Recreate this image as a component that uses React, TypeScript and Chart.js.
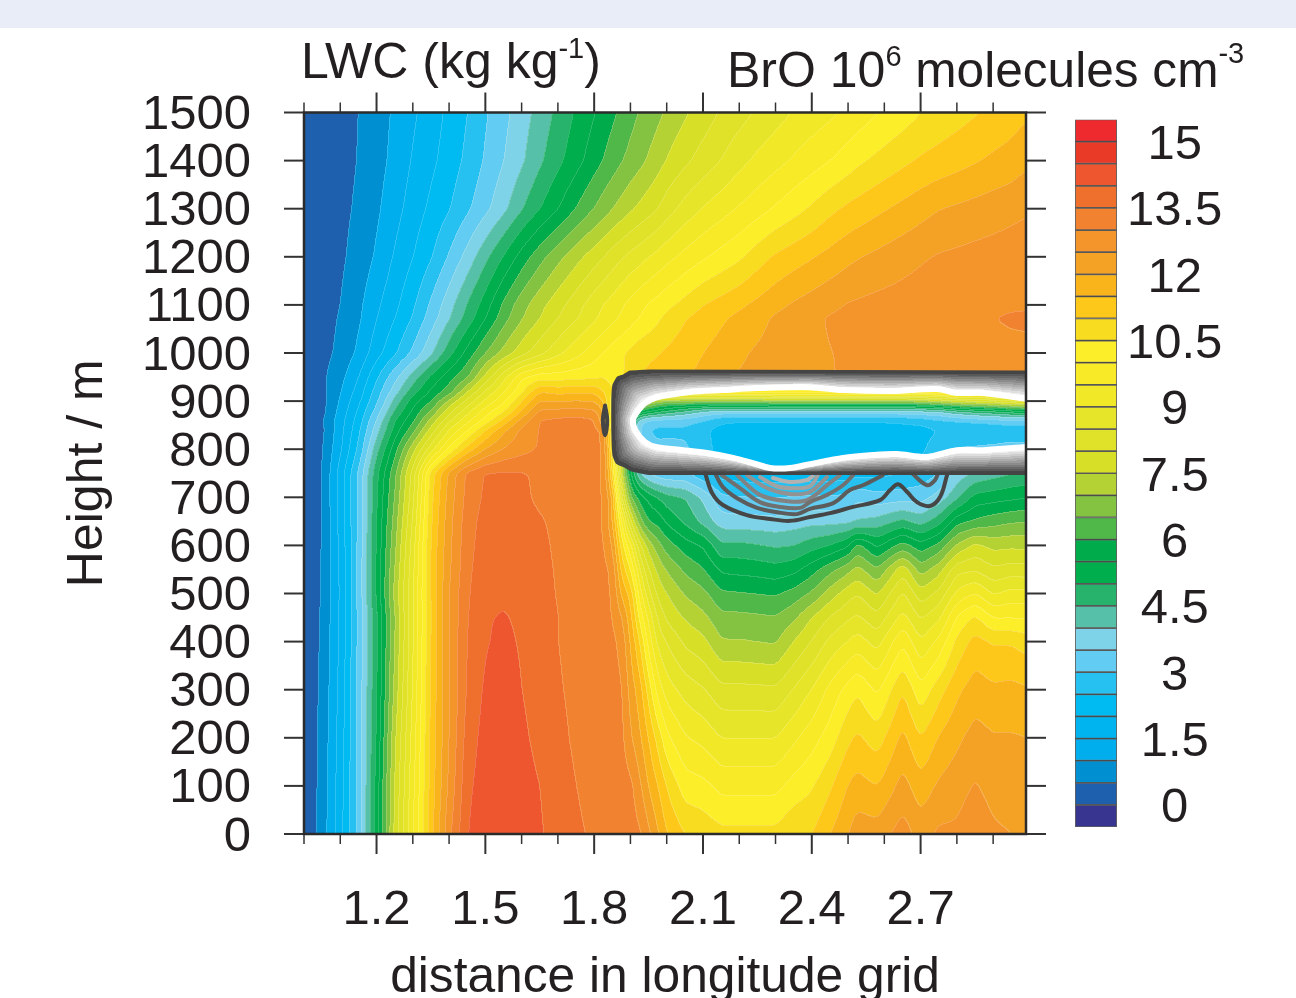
import React, { useEffect, useRef } from "react";
import { Chart, registerables } from "chart.js";

Chart.register(...registerables);

const FONT = "'Liberation Sans', Arial, sans-serif";
const INK = "#231f20";

// ---- grid of the BrO field (10^6 molecules cm-3) ----
const DISTANCES = [1.0,1.05,1.1,1.15,1.2,1.25,1.3,1.35,1.4,1.45,1.5,1.55,1.6,1.65,1.7,1.75,1.8,1.825,1.85,1.875,1.9,1.925,1.95,1.975,2.0,2.05,2.1,2.15,2.2,2.25,2.3,2.35,2.4,2.45,2.5,2.525,2.58,2.65,2.7,2.75,2.8,2.85,2.9,2.95,3.0];
const HEIGHTS = [0,100,200,300,400,450,500,550,600,650,700,750,800,840,860,880,900,920,950,1000,1073,1100,1200,1300,1400,1500];

const BRO_0 = [.05,.75,1.85,3.2,5.3,7.7,9.5,11.35,12.9,14.02,14.3,14.4,14.3,14.05,13.8,13.58,13.42,13.35,13.3,13.25,13.2,13.1,12.6,12.05,11.5,11,10.85,10.65,10.65,10.65,10.65,10.95,11,11.5,12,12.3,12.25,12.75,12.3,12.6,12.6,12.9,12.6,12.5,12.5];
const BRO_100 = [.05,.7,1.8,3.2,5.25,7.6,9.4,11.25,12.65,13.9,14.25,14.35,14.2,14.0,13.7,13.5,13.33,13.28,13.22,13.2,13.15,12.6,11.95,11.5,10.95,10.25,10.15,9.85,9.85,9.85,9.85,10.2,10.45,10.93,11.54,11.7,11.5,12.2,11.7,12.1,12.3,12.55,12.3,12.25,12.25];
const BRO_200 = [.05,.68,1.75,3.2,5.1,7.45,9.25,11.2,12.55,13.75,14.2,14.3,14.1,13.85,13.62,13.42,13.28,13.22,13.17,13.15,12.55,12.1,11.45,10.8,10.1,9.55,9.35,9,9,9,9,9.4,9.8,10.25,10.9,11.1,10.75,11.65,11,11.55,11.9,12.2,12.05,12.05,12];
const BRO_300 = [.05,.64,1.68,3.2,5,7.2,9.1,11.15,12.5,13.6,14.1,14.25,14,13.78,13.55,13.38,13.22,13.18,13.12,13.1,12.25,11.75,10.75,9.75,9.25,8.8,8.55,8.15,8.15,8.13,8.1,8.55,9.03,9.65,10.2,10.45,9.9,11,10.15,10.8,11.4,11.75,11.6,11.65,11.55];
const BRO_400 = [.05,.6,1.62,3.15,4.95,7.05,9,11.1,12.55,13.55,13.97,14.1,13.95,13.7,13.5,13.33,13.2,13.15,13.1,12.85,11.9,11,9.75,8.85,8.45,7.9,7.65,7.05,7.05,7,6.95,7.53,8.05,8.65,9.03,9.25,8.8,9.95,9.05,9.65,10.65,11.2,10.95,10.95,10.75];
const BRO_450 = [.05,.58,1.6,3.15,4.95,7,9,11.05,12.55,13.5,13.97,14.03,13.93,13.7,13.5,13.32,13.17,13.1,13.02,12.55,11.65,10.35,9.35,8.4,7.9,7.45,7.15,6.65,6.65,6.6,6.55,6.9,7.52,8.05,8.45,8.6,8.15,9.2,8.45,8.9,10.1,10.6,10,10,9.95];
const BRO_500 = [.05,.55,1.58,3.17,5.12,7.2,9,11.1,12.55,13.45,13.9,13.95,13.9,13.65,13.47,13.3,13.15,13.08,13,11.85,11.35,9.7,8.65,7.85,7.5,6.95,6.65,6.1,6.05,6,5.95,6.2,6.6,7.25,7.8,8,7.45,8.6,7.7,8.15,9.15,9.55,8.95,9.2,9.15];
const BRO_550 = [.05,.55,1.6,3.17,5.15,7.05,8.9,11.15,12.45,13.4,13.8,13.85,13.8,13.63,13.45,13.28,13.15,13.1,12.9,11.3,10.5,9,8,7.35,6.95,6.4,6.05,5.4,5.35,5.3,5.2,5.35,5.8,6.35,6.85,7.2,6.55,7.85,6.75,7.3,8.35,8.45,8.1,8.25,8.2];
const BRO_600 = [.05,.52,1.65,3.15,5.1,6.9,8.8,11.1,12.4,13.35,13.75,13.8,13.75,13.6,13.42,13.27,13.12,13.05,12.5,10.7,9.6,8.1,7.25,6.7,6.25,5.75,5.45,4.6,4.65,4.55,4.45,4.5,4.8,5.03,5.45,6.2,5.4,6.25,5.7,6.15,7.1,7.65,7.35,7.4,7.35];
const BRO_650 = [.05,.5,1.7,3.12,5.05,6.75,8.6,11,12.35,13.3,13.7,13.75,13.7,13.55,13.38,13.25,13.1,13,12,10,8,6.7,6,5.85,5.4,4.9,4.35,3.75,3.7,3.7,3.65,3.75,3.85,3.85,3.9,4.05,4.2,4.65,4.3,4.8,5.85,6.1,6.3,6.45,6.5];
const BRO_700 = [.05,.5,1.75,3.12,5,6.55,8.4,10.9,12.25,13.2,13.6,13.65,13.6,13.4,13.35,13.25,13.1,13,12,8.5,6.5,5.8,5.3,5,4.7,4.5,3.9,3.1,3.05,3,3,3.05,3.1,3.1,3.1,3.4,3.2,3.3,3.3,3.7,4.4,5.2,5.3,5.4,5.5];
const BRO_750 = [.05,.5,1.75,3.1,4.9,6.4,8.25,10.75,12.15,13.13,13.55,13.6,13.55,13.4,13.3,13.2,13.1,13,11,7.5,5.5,4,3.5,3.2,3.1,3.1,2.6,2.3,2.25,2.2,2.2,2.2,2.2,2.2,2.3,2.35,2.35,2.5,2.7,3,3.7,4.1,4.3,4.5,4.6];
const BRO_800 = [.05,.47,1.44,2.63,4.37,5.83,7.35,8.83,10.14,11.22,12.05,12.55,12.85,13.05,13.1,13.15,13.1,13,10.5,7.5,5,3.4,3.2,3.1,3.15,3.1,2.7,2.3,2.2,2.2,2.2,2.2,2.2,2.2,2.2,2.2,2.2,2.3,2.4,2.8,3.05,3.1,3.15,3.2,3.2];
const BRO_840 = [.05,.4,1.33,2.4,3.8,5.22,6.33,7.72,9.05,10,11,11.9,12.65,13.05,13.1,13.15,13.05,13,10,8,5,3.5,3,2.9,2.9,2.9,2.6,2.3,2.2,2.2,2.2,2.2,2.2,2.2,2.2,2.2,2.2,2.25,2.3,2.5,2.5,2.55,2.6,2.7,2.7];
const BRO_860 = [.05,.45,1.3,2.25,3.57,5,5.9,7.2,8.43,9.37,10.2,11.15,12.2,13.05,13.15,13.2,13.1,12,9.5,8,5,3.7,3.3,3.2,3.2,3.2,3,2.6,2.5,2.5,2.5,2.5,2.5,2.5,2.5,2.5,2.5,2.6,2.7,2.9,3,3.1,3.2,3.3,3.3];
const BRO_880 = [.05,.35,1.18,2.1,3.2,4.57,5.6,6.57,7.8,8.83,9.75,10.43,11.5,12.6,12.65,12.7,12.6,12,10,9,7,6,5.6,5.3,5,4.5,4,3.8,3.8,3.8,3.8,3.8,3.8,3.8,3.8,3.8,3.8,3.8,3.9,4,4.5,4.8,5,5.3,5.5];
const BRO_900 = [.05,.35,1.08,1.9,2.93,4.2,5.3,6,7.15,8.2,9.15,9.9,11,12.05,12,12.05,12,11.5,10,10,9,8,7.5,7,6.8,6.8,6.8,6.8,6.8,6.8,7,7,7,7,7,7,7,7,7.2,7.5,7.8,8,8.2,8.5,8.7];
const BRO_920 = [.05,.38,.97,1.73,2.75,3.78,4.8,5.6,6.25,7.5,8.6,9.45,10.4,11.5,11.35,11.4,11.4,11,10.5,10.5,10.5,10.5,10.5,10.5,10.5,10.5,10.5,10.5,10.5,10.5,10.5,10.5,10.5,10.5,10.5,10.5,10.5,10.5,10.5,10.5,10.5,10.5,10.5,10.5,10.5];
const BRO_950 = [.05,.4,.85,1.5,2.45,3.35,4.25,5.12,5.8,6.45,7.65,8.85,9.95,10.3,10.3,10.35,10.4,10.5,10.3,10.4,10.8,11,11.1,11.2,11.3,11.45,11.65,11.85,12.05,12.1,12.2,12.3,12.4,12.48,12.55,12.58,12.63,12.7,12.74,12.78,12.8,12.82,12.83,12.84,12.85];
const BRO_1000 = [.05,.35,.62,1.12,1.81,2.43,3.12,3.91,4.83,5.7,6.5,7.18,7.8,8.35,8.87,9.33,9.79,10.02,10.24,10.45,10.6,10.82,10.92,10.96,11.08,11.29,11.5,11.71,11.93,12.07,12.17,12.28,12.39,12.49,12.55,12.58,12.63,12.7,12.74,12.78,12.8,12.82,12.83,12.84,12.85];
const BRO_1073 = [.05,.3,.55,.92,1.5,2,2.55,3.25,3.97,4.7,5.5,6.3,6.97,7.5,8,8.45,8.92,9.15,9.38,9.58,9.8,10.02,10.2,10.42,10.63,10.97,11.2,11.42,11.63,11.85,12.08,12.25,12.4,12.55,12.62,12.65,12.72,12.78,12.83,12.87,12.9,12.95,12.99,13.07,13.1];
const BRO_1100 = [.05,.3,.5,.89,1.41,1.88,2.43,3.1,3.82,4.55,5.27,6.12,6.81,7.35,7.82,8.3,8.8,9.02,9.21,9.45,9.66,9.86,10.05,10.2,10.37,10.68,11,11.2,11.41,11.63,11.86,12.07,12.23,12.39,12.54,12.58,12.66,12.73,12.78,12.81,12.84,12.87,12.89,12.92,12.94];
const BRO_1200 = [.05,.25,.42,.69,1.08,1.57,2,2.47,3.07,3.7,4.38,5.04,5.73,6.33,6.86,7.33,7.78,8,8.24,8.47,8.65,8.83,9,9.17,9.35,9.66,9.94,10.18,10.42,10.77,11.08,11.28,11.47,11.67,11.88,11.97,12.12,12.31,12.44,12.55,12.61,12.67,12.72,12.78,12.85];
const BRO_1300 = [.05,.22,.38,.58,.92,1.32,1.74,2.12,2.48,2.92,3.38,3.88,4.47,5,5.5,6.03,6.53,6.76,7,7.21,7.43,7.62,7.81,8,8.28,8.7,9.04,9.3,9.56,9.81,10.07,10.32,10.58,10.88,11.11,11.2,11.4,11.64,11.82,11.99,12.08,12.17,12.26,12.35,12.45];
const BRO_1400 = [.05,.2,.35,.52,.82,1.15,1.56,1.89,2.24,2.63,3.07,3.5,3.93,4.42,4.88,5.32,5.79,6.03,6.25,6.48,6.67,6.87,7.07,7.3,7.54,7.9,8.22,8.52,8.85,9.12,9.34,9.57,9.79,10,10.25,10.4,10.62,10.89,11.07,11.2,11.33,11.46,11.6,11.72,11.95];
const BRO_1500 = [.05,.2,.35,.5,.78,1.08,1.42,1.77,2.12,2.5,2.95,3.36,3.78,4.2,4.64,5.07,5.48,5.7,5.9,6.12,6.33,6.54,6.7,6.88,7.08,7.44,7.74,8.06,8.31,8.57,8.8,9.04,9.22,9.4,9.6,9.72,9.98,10.26,10.49,10.65,10.8,10.96,11.1,11.25,11.45];
const BRO_ROWS = [BRO_0,BRO_100,BRO_200,BRO_300,BRO_400,BRO_450,BRO_500,BRO_550,BRO_600,BRO_650,BRO_700,BRO_750,BRO_800,BRO_840,BRO_860,BRO_880,BRO_900,BRO_920,BRO_950,BRO_1000,BRO_1073,BRO_1100,BRO_1200,BRO_1300,BRO_1400,BRO_1500];

// ---- colour bands: first band is below 0, then one per 0.5, last above 15 ----
const BAND_COLORS = ["#37358f","#1f60ae","#0090d2","#00aeed","#00b5ef","#00bbf2","#26c1f1","#63ccf2","#7fd3e8","#57c0a8","#27b36c","#00ae4d","#00ab4b","#4fb848","#84c341","#b5d235","#d8df27","#e0e229","#e6e529","#f1e928","#f9ea28","#fcee28","#f8dc20","#fdc819","#f9b41b","#f3a226","#f3952b","#f1822f","#ef6f2d","#ed562e","#e93a28","#ee2a2e"];
const BAND_EDGES = [-0.5,0,0.5,1,1.5,2,2.5,3,3.5,4,4.5,5,5.5,6,6.5,7,7.5,8,8.5,9,9.5,10,10.5,11,11.5,12,12.5,13,13.5,14,14.5,15,15.5];
const BAR_LABELS = [0,1.5,3,4.5,6,7.5,9,10.5,12,13.5,15];

// ---- axes ----
const X_LABELS = [1.2,1.5,1.8,2.1,2.4,2.7];
const X_MINOR = [1.0,1.1,1.3,1.4,1.6,1.7,1.9,2.0,2.2,2.3,2.5,2.6,2.8,2.9];
const Y_LABELS = [0,100,200,300,400,500,600,700,800,900,1000,1100,1200,1300,1400,1500];

// ---- LWC contours, [distance, height] ----
const LWC_EDGE: number[][] = [[3.03,960],[1.954,962],[1.899,960],[1.882,952],[1.866,948],[1.855,933],[1.852,902],[1.852,840],[1.855,788],[1.863,773],[1.885,765],[1.904,757],[1.954,750],[3.03,750]];
const LWC_CORE: number[][] = [[3.029,902],[2.982,906],[2.872,917],[2.8,917],[2.745,925],[2.624,921],[2.486,923],[2.395,929],[2.249,927],[2.155,923],[2.064,919],[1.973,908],[1.94,896],[1.918,877],[1.907,861],[1.913,840],[1.94,815],[1.973,804],[2.045,798],[2.111,792],[2.183,782],[2.238,771],[2.285,761],[2.34,761],[2.395,769],[2.486,782],[2.569,788],[2.635,790],[2.718,784],[2.8,798],[2.872,798],[2.982,804],[3.029,807]];
const LWC_A: number[][] = [[2.106,750],[2.125,709],[2.155,684],[2.221,663],[2.285,655],[2.34,651],[2.395,659],[2.45,667],[2.514,680],[2.588,694],[2.616,715],[2.638,727],[2.663,711],[2.69,690],[2.726,682],[2.754,701],[2.773,746]];
const LWC_B: number[][] = [[2.133,750],[2.155,721],[2.194,698],[2.249,678],[2.304,669],[2.359,665],[2.395,676],[2.459,688],[2.505,715],[2.541,725],[2.596,746]];
const LWC_B2: number[][] = [[2.676,750],[2.718,725],[2.74,736],[2.748,750]];
const LWC_C: number[][] = [[2.152,746],[2.202,719],[2.257,690],[2.312,680],[2.368,678],[2.395,690],[2.442,705],[2.486,725],[2.514,746]];
const LWC_D: number[][] = [[2.194,746],[2.257,705],[2.332,692],[2.387,694],[2.45,730],[2.478,746]];
const LWC_E: number[][] = [[2.221,746],[2.277,719],[2.34,707],[2.395,711],[2.442,742]];
const LWC_F: number[][] = [[2.257,742],[2.304,723],[2.348,719],[2.395,723],[2.417,746]];
const LWC_G: number[][] = [[2.293,740],[2.34,732],[2.387,736],[2.403,744]];
const LWC_BLOB: number[][] = [[1.83,891],[1.836,860],[1.83,829],[1.824,860],[1.83,891]];

const hexToRgb = (h: string) => [parseInt(h.slice(1,3),16),parseInt(h.slice(3,5),16),parseInt(h.slice(5,7),16)];

function locate(arr: number[], v: number) {
  let i = 0;
  while (i < arr.length - 2 && arr[i + 1] <= v) i++;
  return i;
}

function inside(poly: number[][], x: number, y: number) {
  let c = false;
  for (let i = 0, j = poly.length - 1; i < poly.length; j = i++) {
    const a = poly[i], b = poly[j];
    if ((a[1] > y) !== (b[1] > y) && x < ((b[0] - a[0]) * (y - a[1])) / (b[1] - a[1]) + a[0]) c = !c;
  }
  return c;
}

function distTo(poly: number[][], x: number, y: number) {
  let best = Infinity;
  for (let i = 0; i < poly.length - 1; i++) {
    const a = poly[i], b = poly[i + 1];
    const dx = b[0] - a[0], dy = b[1] - a[1];
    let t = ((x - a[0]) * dx + (y - a[1]) * dy) / (dx * dx + dy * dy || 1);
    t = Math.max(0, Math.min(1, t));
    const ex = a[0] + t * dx - x, ey = a[1] + t * dy - y;
    const d = ex * ex + ey * ey;
    if (d < best) best = d;
  }
  return Math.sqrt(best);
}

// Softens the bilinear kinks of the sampled field, as the reference's contouring does.
function boxBlur(src: Float32Array, W: number, H: number, R: number) {
  const tmp = new Float32Array(W * H);
  const out = new Float32Array(W * H);
  for (let y = 0; y < H; y++) {
    for (let x = 0; x < W; x++) {
      let s = 0;
      for (let d = -R; d <= R; d++) s += src[y * W + Math.max(0, Math.min(W - 1, x + d))];
      tmp[y * W + x] = s / (2 * R + 1);
    }
  }
  for (let y = 0; y < H; y++) {
    for (let x = 0; x < W; x++) {
      let s = 0;
      for (let d = -R; d <= R; d++) s += tmp[Math.max(0, Math.min(H - 1, y + d)) * W + x];
      out[y * W + x] = s / (2 * R + 1);
    }
  }
  return out;
}

const fieldPlugin = {
  id: "broField",
  beforeDatasetsDraw(chart: any) {
    const { ctx, chartArea, scales } = chart;
    const xs = scales.x, ys = scales.y;
    const L = Math.round(chartArea.left), T = Math.round(chartArea.top);
    const W = Math.round(chartArea.right) - L, H = Math.round(chartArea.bottom) - T;
    const img = ctx.createImageData(W, H);
    const rgb = BAND_COLORS.map(hexToRgb);
    let field = new Float32Array(W * H);
    const colIdx: number[] = [], colT: number[] = [];
    for (let px = 0; px < W; px++) {
      const v = xs.getValueForPixel(L + px + 0.5);
      const i = locate(DISTANCES, v);
      colIdx.push(i);
      colT.push((v - DISTANCES[i]) / (DISTANCES[i + 1] - DISTANCES[i]));
    }
    for (let py = 0; py < H; py++) {
      const v = ys.getValueForPixel(T + py + 0.5);
      const r = locate(HEIGHTS, v);
      const rt = (v - HEIGHTS[r]) / (HEIGHTS[r + 1] - HEIGHTS[r]);
      const lo = BRO_ROWS[r], hi = BRO_ROWS[r + 1];
      for (let px = 0; px < W; px++) {
        const c = colIdx[px], t = colT[px];
        const a = lo[c] + (lo[c + 1] - lo[c]) * t;
        const b = hi[c] + (hi[c + 1] - hi[c]) * t;
        field[py * W + px] = a + (b - a) * rt;
      }
    }
    field = boxBlur(boxBlur(field, W, H, 3), W, H, 3);
    const bands = new Uint8Array(W * H);
    for (let k = 0; k < W * H; k++) {
      const val = field[k];
      bands[k] = val < 0 ? 0 : Math.min(31, Math.floor(val / 0.5) + 1);
    }
    const toPx = (p: number[]) => [xs.getPixelForValue(p[0]) - L, ys.getPixelForValue(p[1]) - T];
    const edge = LWC_EDGE.map(toPx), core = LWC_CORE.map(toPx);
    const STEPS = 12;
    for (let py = 0; py < H; py++) {
      for (let px = 0; px < W; px++) {
        const k = py * W + px, b = bands[k];
        const o = k * 4;
        let [r, g, bl] = rgb[b];
        const diff = (px > 0 && bands[k - 1] !== b) || (py > 0 && bands[k - W] !== b);
        if (diff) {
          r += (255 - r) * 0.18; g += (255 - g) * 0.18; bl += (255 - bl) * 0.18;
        }
        if (py > 240 && py < 380 && inside(edge, px + 0.5, py + 0.5) && !inside(core, px + 0.5, py + 0.5)) {
          const dO = distTo(edge, px + 0.5, py + 0.5), dI = distTo(core, px + 0.5, py + 0.5);
          const q = Math.floor((dO / (dO + dI)) * STEPS) / (STEPS - 1);
          const gray = 0x48 + (0xff - 0x48) * Math.min(1, q);
          r = g = bl = gray;
        }
        img.data[o] = r; img.data[o + 1] = g; img.data[o + 2] = bl; img.data[o + 3] = 255;
      }
    }
    ctx.putImageData(img, L, T);
  },
};

const framePlugin = {
  id: "frame",
  afterDatasetsDraw(chart: any) {
    const { ctx, chartArea: a, scales } = chart;
    const xs = scales.x, ys = scales.y;
    const line = (x1: number, y1: number, x2: number, y2: number, w: number) => {
      ctx.lineWidth = w;
      ctx.beginPath(); ctx.moveTo(x1, y1); ctx.lineTo(x2, y2); ctx.stroke();
    };
    ctx.save();
    ctx.strokeStyle = "#333333";
    X_MINOR.forEach((v) => {
      const p = xs.getPixelForValue(v);
      line(p, a.bottom, p, a.bottom + 10, 1.5);
      line(p, a.top, p, a.top - 10, 1.5);
    });
    X_LABELS.forEach((v) => {
      const p = xs.getPixelForValue(v);
      line(p, a.bottom, p, a.bottom + 20, 2);
      line(p, a.top, p, a.top - 20, 2);
    });
    Y_LABELS.forEach((v) => {
      const p = ys.getPixelForValue(v);
      line(a.left - 20, p, a.left, p, 2);
      line(a.right, p, a.right + 20, p, 2);
    });
    ctx.strokeStyle = "#2b2b2b";
    ctx.lineWidth = 2.5;
    ctx.strokeRect(a.left, a.top, a.right - a.left, a.bottom - a.top);
    ctx.restore();
  },
  afterDraw(chart: any) {
    const { ctx } = chart;
    ctx.save();
    ctx.fillStyle = INK;
    ctx.textBaseline = "alphabetic";
    ctx.textAlign = "left";
    const run = (parts: [string, number, number][], x0: number) => {
      let x = x0;
      parts.forEach(([t, size, base]) => {
        ctx.font = `${size}px ${FONT}`;
        ctx.fillText(t, x, base);
        x += ctx.measureText(t).width;
      });
    };
    run([["LWC (kg kg", 50, 78], ["-1", 29, 58], [")", 50, 78]], 301);
    run([["BrO 10", 50, 87], ["6", 29, 66], [" molecules cm", 49.6, 87], ["-3", 29, 63]], 727);
    ctx.restore();
  },
};

const asPoints = (p: number[][]) => p.map(([x, y]) => ({ x, y }));

const contour = (label: string, pts: number[][], color: string, width: number, tension = 0.35) => ({
  type: "scatter" as const,
  label,
  data: asPoints(pts),
  showLine: true,
  pointRadius: 0,
  borderColor: color,
  borderWidth: width,
  tension,
  borderCapStyle: "round" as const,
  borderJoinStyle: "round" as const,
  clip: 0,
});

export default function App() {
  const mainRef = useRef<HTMLCanvasElement | null>(null);
  const barRef = useRef<HTMLCanvasElement | null>(null);

  useEffect(() => {
    const main = new Chart(mainRef.current as HTMLCanvasElement, {
      type: "scatter",
      data: {
        datasets: [
          contour("LWC core", LWC_CORE, "#ffffff", 6, 0.3),
          contour("LWC edge", LWC_EDGE, "#454545", 3.5, 0.1),
          contour("LWC patch", LWC_BLOB, "#454545", 4, 0.4),
          contour("LWC a", LWC_A, "#464646", 4),
          contour("LWC b", LWC_B, "#5c5c5c", 4),
          contour("LWC b2", LWC_B2, "#5c5c5c", 4),
          contour("LWC c", LWC_C, "#707070", 4),
          contour("LWC d", LWC_D, "#828282", 4),
          contour("LWC e", LWC_E, "#929292", 4),
          contour("LWC f", LWC_F, "#a2a2a2", 4),
          contour("LWC g", LWC_G, "#b2b2b2", 4),
        ],
      },
      options: {
        animation: false,
        responsive: false,
        devicePixelRatio: 1,
        layout: { padding: { left: 0, top: 112.5, right: 270, bottom: 0 } },
        plugins: { legend: { display: false }, tooltip: { enabled: false } },
        scales: {
          x: {
            type: "linear",
            min: 1,
            max: 2.9906,
            grid: { display: false },
            border: { display: false },
            afterFit: (s: any) => { s.height = 164; },
            afterBuildTicks: (s: any) => { s.ticks = X_LABELS.map((value) => ({ value })); },
            ticks: {
              autoSkip: false,
              maxRotation: 0,
              padding: 39,
              color: INK,
              font: { family: FONT, size: 49 },
              callback: (v: any) => Number(v).toFixed(1),
            },
            title: {
              display: true,
              text: "distance in longitude grid",
              color: INK,
              font: { family: FONT, size: 49.7, lineHeight: 0.8 },
              padding: { top: 2, bottom: 0 },
            },
          },
          y: {
            type: "linear",
            min: 0,
            max: 1500,
            grid: { display: false },
            border: { display: false },
            afterFit: (s: any) => { s.width = 304; },
            afterBuildTicks: (s: any) => { s.ticks = Y_LABELS.map((value) => ({ value })); },
            ticks: {
              autoSkip: false,
              padding: 45,
              labelOffset: 3,
              color: INK,
              font: { family: FONT, size: 49 },
              callback: (v: any) => String(v),
            },
            title: {
              display: true,
              text: "Height / m",
              color: INK,
              font: { family: FONT, size: 50, lineHeight: 1 },
              padding: { top: 63, bottom: 0 },
            },
          },
        },
      },
      plugins: [fieldPlugin, framePlugin],
    } as any);

    const bar = new Chart(barRef.current as HTMLCanvasElement, {
      type: "bar",
      data: {
        labels: ["BrO"],
        datasets: BAND_COLORS.map((color, i) => ({
          label: String(BAND_EDGES[i]),
          data: [[BAND_EDGES[i], BAND_EDGES[i + 1]]],
          backgroundColor: color,
          borderColor: "rgba(45,45,45,0.75)",
          borderWidth: 1.2,
          borderSkipped: false,
          grouped: false,
          categoryPercentage: 1,
          barPercentage: 1,
        })),
      },
      options: {
        animation: false,
        responsive: false,
        devicePixelRatio: 1,
        layout: { padding: { left: 15, top: 19.5, right: 0, bottom: 13 } },
        plugins: { legend: { display: false }, tooltip: { enabled: false } },
        scales: {
          x: { display: false },
          y: {
            position: "right",
            min: -0.5,
            max: 15.5,
            grid: { display: false },
            border: { display: false },
            afterFit: (s: any) => { s.width = 179; s.paddingTop = 0; s.paddingBottom = 0; },
            afterBuildTicks: (s: any) => { s.ticks = BAR_LABELS.map((value) => ({ value })); },
            ticks: {
              autoSkip: false,
              padding: 2,
              labelOffset: 4,
              crossAlign: "center",
              color: INK,
              font: { family: FONT, size: 49 },
            },
          },
        },
      },
    } as any);

    return () => {
      main.destroy();
      bar.destroy();
    };
  }, []);

  return (
    <div style={{ position: "absolute", left: 0, top: 0, width: 1296, height: 998, overflow: "hidden", background: "#ffffff" }}>
      <div style={{ position: "absolute", left: 0, top: 0, width: 1296, height: 28, background: "#e8edf7" }} />
      <canvas ref={mainRef} width={1296} height={998} style={{ position: "absolute", left: 0, top: 0 }} />
      <canvas ref={barRef} width={236} height={740} style={{ position: "absolute", left: 1060, top: 100 }} />
    </div>
  );
}
